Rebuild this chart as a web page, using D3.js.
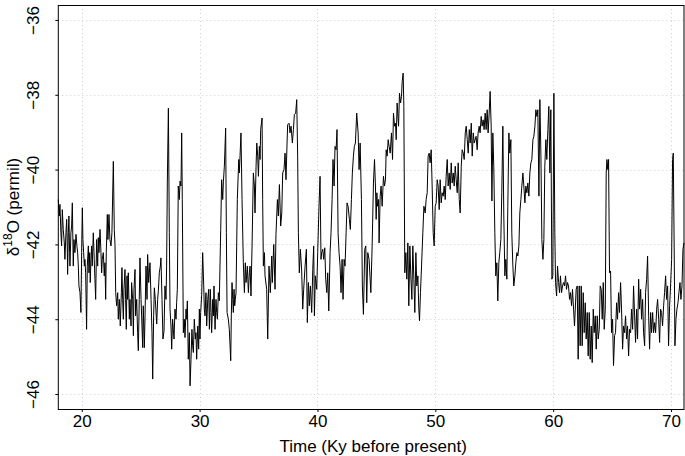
<!DOCTYPE html>
<html><head><meta charset="utf-8">
<script src="https://cdn.jsdelivr.net/npm/d3@7"></script>
<style>
body{margin:0;background:#fff}
svg{display:block}
text{font-family:"Liberation Sans",Arial,Helvetica,sans-serif;fill:#000}
</style>
</head><body>
<svg id="chart" width="685" height="456"></svg>
<script>
// Time (Ky before present)
const time = [
18.01,18.09,18.15,18.23,18.29,18.35,18.43,18.52,18.57,18.66,18.72,18.77,18.80,18.86,18.91,18.97,19.00,19.08,19.14,19.20,
19.28,19.34,19.42,19.51,19.59,19.65,19.71,19.76,19.85,19.93,19.99,20.05,20.10,20.16,20.22,20.27,20.33,20.41,20.47,20.56,
20.61,20.67,20.72,20.78,20.84,20.89,20.98,21.06,21.12,21.18,21.26,21.35,21.40,21.46,21.55,21.63,21.69,21.74,21.83,21.91,
21.97,22.03,22.08,22.17,22.22,22.31,22.39,22.48,22.56,22.68,22.76,22.82,22.88,22.96,23.05,23.10,23.19,23.27,23.36,23.41,
23.47,23.53,23.58,23.67,23.72,23.78,23.84,23.89,23.95,24.04,24.09,24.18,24.23,24.32,24.38,24.43,24.52,24.57,24.66,24.74,
24.80,24.88,24.94,25.03,25.08,25.17,25.22,25.31,25.37,25.45,25.54,25.59,25.68,25.79,25.88,25.96,26.02,26.10,26.16,26.24,
26.36,26.44,26.50,26.58,26.67,26.72,26.81,26.89,
26.98,27.06,27.15,27.20,27.26,27.35,27.43,27.49,27.57,27.63,27.71,27.77,27.83,27.91,28.00,28.05,28.11,28.19,28.28,28.34,
28.42,28.48,28.53,28.62,28.70,28.76,28.85,28.90,28.96,29.04,29.13,29.19,29.27,29.35,29.41,29.47,29.55,29.64,29.69,29.75,
29.84,29.92,29.98,30.03,30.09,30.18,30.26,30.35,30.40,30.46,30.54,30.60,30.69,30.77,30.83,30.91,30.97,31.02,31.11,31.17,
31.22,31.31,31.39,31.45,31.51,31.59,31.67,31.73,31.79,31.87,31.96,32.02,32.10,32.21,32.27,32.33,32.44,32.52,32.64,32.69,
32.75,32.81,32.86,32.92,32.98,33.03,33.09,33.20,33.32,33.37,33.43,33.51,33.60,33.71,33.80,33.88,33.94,33.99,34.05,34.14,
34.22,34.28,34.36,34.45,34.56,34.65,34.70,34.79,34.85,34.93,34.99,35.07,35.13,35.18,35.30,35.35,35.41,35.50,35.55,
35.69,35.78,35.89,36.00,36.12,36.17,36.29,36.40,36.48,36.60,36.68,36.77,36.88,36.97,37.05,37.16,37.25,37.33,37.42,37.47,
37.59,37.67,37.76,37.87,37.96,38.04,38.15,38.24,38.32,38.38,38.46,38.55,38.66,38.75,38.83,38.95,39.06,39.14,39.23,39.31,
39.40,39.51,39.60,39.68,39.74,39.82,39.94,40.02,40.13,40.22,40.30,40.36,40.45,40.53,40.62,40.70,40.79,40.87,40.96,41.07,
41.15,41.24,41.32,41.41,41.49,41.58,41.66,41.75,41.83,41.92,42.00,42.09,42.17,42.26,42.34,42.43,42.51,42.60,42.71,42.79,
42.88,42.96,43.05,43.13,43.22,43.33,43.45,43.53,43.62,43.73,43.81,43.90,44.01,44.10,44.18,44.27,44.38,
44.53,44.64,44.75,44.84,44.92,44.98,45.04,45.09,45.18,45.23,45.32,45.40,45.49,45.60,45.69,45.77,45.83,45.91,46.00,46.08,
46.17,46.28,46.37,46.45,46.54,46.62,46.68,46.76,46.88,46.96,47.05,47.13,47.19,47.27,47.33,47.41,47.50,47.58,47.67,47.75,
47.84,47.92,48.01,48.09,48.18,48.26,48.35,48.43,48.52,48.60,48.66,48.74,48.83,48.94,49.03,49.14,49.22,49.31,49.39,49.48,
49.56,49.65,49.73,49.82,49.90,49.99,50.07,50.16,50.24,50.33,50.41,50.50,50.58,50.67,50.75,50.84,50.92,51.01,51.09,51.18,
51.26,51.35,51.43,51.52,51.60,51.69,51.77,51.86,51.94,52.03,52.11,52.20,52.28,52.37,52.45,52.54,52.62,52.71,52.79,52.88,
52.96,53.05,53.13,53.22,53.30,
53.46,53.55,53.63,53.72,53.80,53.89,53.97,54.06,54.14,54.23,54.31,54.40,54.48,54.57,54.65,54.74,54.80,54.88,54.96,55.05,
55.13,55.22,55.30,55.39,55.47,55.56,55.64,55.73,55.81,55.90,55.98,56.07,56.15,56.24,56.32,56.41,56.49,56.58,56.66,56.75,
56.83,56.92,57.00,57.09,57.17,57.26,57.34,57.43,57.51,57.60,57.68,57.77,57.85,57.94,58.02,58.11,58.19,58.28,58.36,58.45,
58.53,58.62,58.70,58.79,58.87,58.96,59.04,59.13,59.21,59.29,59.38,59.46,59.55,59.63,59.72,59.80,59.89,59.97,60.06,60.14,
60.20,60.29,60.37,60.46,60.54,60.62,60.71,60.79,60.88,60.96,61.05,61.13,61.22,61.30,61.39,61.47,61.56,61.64,61.73,61.81,
61.95,62.04,62.12,62.21,62.29,62.38,62.46,62.55,62.63,62.72,62.80,62.89,62.97,63.06,63.14,63.23,63.31,63.40,63.48,63.57,
63.65,63.74,63.82,63.91,63.99,64.08,64.16,64.25,64.33,64.42,64.50,64.56,64.64,64.70,64.78,64.87,64.95,65.04,65.12,65.21,
65.29,65.38,65.46,65.55,65.63,65.72,65.80,65.89,65.97,66.06,66.14,66.23,66.31,66.40,66.48,66.57,66.65,66.74,66.82,66.91,
66.99,67.08,67.16,67.25,67.33,67.42,67.50,67.59,67.67,67.76,67.84,67.93,68.01,68.10,68.18,68.27,68.35,68.44,68.52,68.61,
68.69,68.78,68.86,68.95,69.03,69.11,69.20,69.28,69.37,69.45,69.54,69.62,69.71,69.79,69.88,69.96,70.05,70.13,70.19,70.28,
70.33,70.42,70.50,70.59,70.67,70.76,70.84,70.93,71.01,71.10
];
// delta 18O (permil)
const d18O = [
-40.80,-41.24,-40.93,-41.69,-42.04,-41.07,-41.60,-41.96,-42.40,-41.69,-41.33,-42.04,-42.80,-41.69,-41.24,-42.22,-42.58,-41.69,-41.51,-40.89,
-42.58,-41.87,-42.22,-41.73,-42.04,-42.22,-42.58,-43.11,-43.29,-43.82,-42.22,-41.02,-41.87,-42.22,-42.58,-42.40,-42.76,-44.27,-42.58,-42.04,
-42.76,-42.22,-43.02,-42.40,-42.04,-42.58,-41.69,-42.40,-42.93,-43.47,-41.87,-42.58,-41.82,-42.22,-41.60,-42.22,-42.76,-42.40,-42.22,-42.84,
-42.49,-43.47,-42.22,-41.20,-41.87,-41.20,-41.87,-42.04,-41.69,-39.78,-41.60,-42.00,-43.29,-43.64,-43.29,-44.00,-43.47,-44.18,-43.29,-42.62,
-43.47,-44.00,-43.20,-42.67,-43.47,-44.27,-42.84,-43.47,-42.76,-44.00,-43.47,-44.18,-43.02,-43.47,-44.44,-43.20,-42.67,-43.91,-43.47,-44.36,
-44.84,-43.47,-42.36,-43.47,-43.91,-44.76,-43.64,-44.76,-43.91,-42.58,-43.47,-42.27,-43.02,-42.49,-43.47,-44.36,-45.60,-43.91,-43.16,-43.47,
-44.13,-43.47,-43.24,-42.76,-42.58,-42.36,-43.47,-44.53,
-44.31,-43.11,-43.47,-42.58,-40.36,-38.36,-41.69,-43.73,-44.18,-44.80,-44.00,-44.27,-44.53,-43.73,-44.00,-43.56,-43.20,-40.44,-40.80,-40.31,
-40.44,-39.02,-40.80,-44.36,-44.00,-44.49,-43.73,-44.00,-43.51,-45.07,-44.36,-45.78,-45.07,-44.27,-44.71,-44.89,-44.00,-44.53,-44.36,-45.07,
-44.18,-44.80,-43.73,-44.53,-43.82,-43.33,-42.22,-43.11,-43.73,-43.91,-43.29,-44.18,-43.47,-43.20,-44.27,-43.20,-43.82,-44.36,-43.47,-43.91,
-43.11,-44.27,-43.47,-43.82,-44.00,-43.29,-43.51,-42.58,-41.60,-40.27,-40.80,-40.31,-39.91,-38.89,-41.69,-43.82,-44.00,-44.27,-45.11,-43.91,
-43.02,-43.47,-43.82,-43.20,-43.64,-43.47,-43.29,-40.80,-39.73,-40.09,-39.64,-39.02,-40.80,-42.49,-43.29,-42.49,-43.02,-42.84,-42.58,-43.29,
-42.76,-42.58,-43.38,-42.04,-40.09,-40.44,-41.16,-39.91,-39.29,-39.64,-40.18,-39.38,-39.73,-38.93,-38.62,-40.80,-42.58,-42.22,-42.84,
-43.20,-44.53,-42.58,-43.29,-42.31,-43.02,-42.00,-43.20,-41.73,-40.80,-41.24,-40.40,-41.51,-41.16,-40.09,-40.00,-39.56,-40.27,-39.29,-38.80,
-38.76,-39.02,-38.84,-39.29,-38.93,-38.53,-38.49,-38.13,-39.64,-41.69,-42.76,-42.13,-42.71,-43.73,-43.20,-42.58,-42.13,-44.09,-43.02,-43.64,
-43.11,-43.82,-42.67,-42.04,-43.91,-42.84,-43.20,-42.22,-40.98,-40.18,-42.40,-42.22,-42.13,-42.40,-42.09,-42.93,-43.29,-42.76,-43.78,-42.22,
-41.69,-40.80,-39.73,-40.44,-39.38,-39.47,-38.93,-41.69,-42.22,-42.58,-43.29,-42.40,-43.47,-42.40,-42.58,-41.69,-40.89,-40.98,-41.33,-41.60,
-40.80,-40.09,-39.64,-39.38,-39.29,-38.49,-39.02,-40.00,-39.29,-40.80,-43.11,-43.87,-42.13,-42.04,-43.56,-42.22,-42.40,
-43.29,-42.04,-40.36,-39.73,-40.44,-41.33,-40.62,-40.98,-40.80,-41.96,-40.71,-40.44,-40.98,-40.18,-40.44,-40.27,-39.47,-39.64,-39.20,-39.38,
-39.56,-39.02,-39.73,-38.49,-38.84,-38.76,-39.20,-38.22,-38.84,-37.96,-38.22,-38.04,-37.64,-37.42,-38.31,-42.76,-42.22,-42.93,-41.96,-43.64,
-42.04,-42.84,-43.47,-42.04,-42.93,-43.82,-42.22,-43.11,-42.84,-43.73,-44.04,-43.29,-42.58,-41.69,-40.98,-41.16,-40.80,-40.62,-39.64,-39.56,
-39.82,-39.47,-40.44,-41.69,-42.04,-40.98,-40.89,-40.27,-40.44,-41.07,-40.27,-40.89,-40.62,-40.71,-40.44,-40.80,-40.18,-39.73,-40.44,-40.09,
-40.53,-39.82,-40.36,-40.09,-40.44,-39.91,-40.27,-40.62,-39.82,-40.80,-41.16,-39.91,-39.47,-39.56,-39.73,-39.02,-38.84,-39.20,-39.56,-38.93,
-39.29,-38.76,-39.64,-39.02,-39.29,
-39.11,-39.47,-39.02,-38.84,-39.02,-38.58,-38.84,-38.67,-38.93,-38.49,-38.93,-38.40,-39.02,-38.49,-37.91,-38.84,-40.84,-39.02,-39.91,-41.69,
-42.84,-42.49,-43.51,-42.49,-42.22,-41.87,-40.62,-38.84,-41.24,-42.84,-42.40,-42.93,-40.98,-39.02,-39.56,-39.20,-41.69,-42.58,-43.11,-42.84,
-42.49,-42.22,-42.31,-42.04,-41.16,-40.80,-40.44,-40.09,-40.44,-40.89,-40.44,-40.62,-40.36,-40.71,-40.09,-39.82,-39.73,-39.20,-39.11,-38.84,
-38.40,-38.58,-38.40,-40.71,-38.13,-39.64,-41.87,-42.40,-41.87,-39.91,-39.20,-39.73,-38.93,-38.31,-40.09,-38.40,-42.93,-42.84,-37.96,-41.69,
-43.02,-43.38,-42.58,-43.02,-43.29,-42.84,-43.29,-43.11,-43.02,-43.11,-42.84,-43.20,-43.02,-43.11,-43.47,-43.29,-43.64,-43.20,-43.73,-44.18,
-43.20,-43.11,-45.07,-43.11,-44.71,-43.11,-44.71,-43.29,-44.36,-43.56,-44.53,-43.82,-44.98,-43.82,-45.07,-44.18,-45.16,-43.73,-44.36,-43.91,
-44.80,-43.91,-44.53,-44.27,-43.11,-43.20,-44.00,-43.02,-44.27,-43.73,-40.09,-39.73,-40.00,-39.73,-42.76,-42.71,-44.36,-44.00,-45.24,-44.44,
-44.36,-43.56,-44.00,-43.29,-43.82,-43.02,-43.73,-44.80,-44.18,-44.36,-43.91,-44.53,-44.18,-44.98,-44.27,-44.36,-43.73,-44.27,-43.11,-43.91,
-44.62,-43.73,-44.53,-42.93,-43.73,-43.20,-44.00,-43.47,-44.36,-44.71,-43.29,-42.93,-42.31,-43.91,-44.80,-43.82,-44.36,-43.82,-44.36,-44.09,
-44.36,-43.73,-43.47,-44.00,-44.62,-43.73,-43.82,-44.18,-43.64,-43.29,-42.84,-43.47,-43.11,-44.71,-43.64,-43.11,-42.40,-39.73,-39.56,-42.58,
-44.71,-44.00,-43.73,-43.56,-43.29,-43.02,-43.47,-43.11,-42.13,-41.96
];
const xTicks = [20, 30, 40, 50, 60, 70];
const yTicks = [-36, -38, -40, -42, -44, -46];
const yLimits = [-46, -36];
const xTitle = "Time (Ky before present)";

const svg = d3.select("#chart");
const W = 685, H = 456;
const plot = {left: 58.3, right: 684, top: 5, bottom: 409};

const pad = 0.04 * (yLimits[1] - yLimits[0]);
const x = d3.scaleLinear().domain(d3.extent(time)).range([plot.left, plot.right]);
const y = d3.scaleLinear().domain([yLimits[0] - pad, yLimits[1] + pad]).range([plot.bottom, plot.top]);

const data = time.map((t, i) => ({t, v: d18O[i]}));

// grid
const grid = svg.append("g").attr("stroke", "#cfcfcf").attr("stroke-width", 1).attr("stroke-dasharray", "1,3");
grid.selectAll("line.gx").data(xTicks).join("line")
  .attr("x1", d => Math.round(x(d)) + 0.5).attr("x2", d => Math.round(x(d)) + 0.5)
  .attr("y1", plot.top).attr("y2", plot.bottom);
grid.selectAll("line.gy").data(yTicks).join("line")
  .attr("y1", d => Math.round(y(d)) + 0.5).attr("y2", d => Math.round(y(d)) + 0.5)
  .attr("x1", plot.left).attr("x2", plot.right);

// series
svg.append("path").datum(data)
  .attr("fill", "none").attr("stroke", "#000").attr("stroke-width", 1)
  .attr("stroke-linejoin", "round")
  .attr("d", d3.line().x(d => x(d.t)).y(d => y(d.v)));

// box
svg.append("rect")
  .attr("x", plot.left).attr("y", plot.top + 0.5)
  .attr("width", plot.right - plot.left).attr("height", plot.bottom - plot.top)
  .attr("fill", "none").attr("stroke", "#000").attr("stroke-width", 1);

// x axis
const gx = svg.append("g").attr("transform", `translate(0,${plot.bottom})`)
  .call(d3.axisBottom(x).tickValues(xTicks).tickSize(3).tickPadding(3).tickFormat(d3.format("d")));
gx.select(".domain").remove();
gx.selectAll("text").attr("font-size", 17).attr("font-family", '"Liberation Sans", Arial, sans-serif');

// y axis
const gy = svg.append("g").attr("transform", `translate(${plot.left},0)`)
  .call(d3.axisLeft(y).tickValues(yTicks).tickSize(3).tickFormat(d3.format("d")));
gy.select(".domain").remove();
gy.selectAll("text")
  .attr("transform", "rotate(-90)")
  .attr("x", 0).attr("y", -(plot.left - 38.5)).attr("dy", 0)
  .attr("text-anchor", "middle")
  .attr("font-size", 17).attr("font-family", '"Liberation Sans", Arial, sans-serif');

// titles
svg.append("text")
  .attr("x", (plot.left + plot.right) / 2 + 2).attr("y", 451.5)
  .attr("text-anchor", "middle").attr("font-size", 17)
  .text(xTitle);

const yt = svg.append("text")
  .attr("transform", `translate(19,${(plot.top + plot.bottom) / 2}) rotate(-90)`)
  .attr("text-anchor", "middle").attr("font-size", 17);
yt.append("tspan").text("δ");
yt.append("tspan").attr("font-size", 12).attr("dy", -7).text("18");
yt.append("tspan").attr("dy", 7).text("O (permil)");
</script>
</body></html>
